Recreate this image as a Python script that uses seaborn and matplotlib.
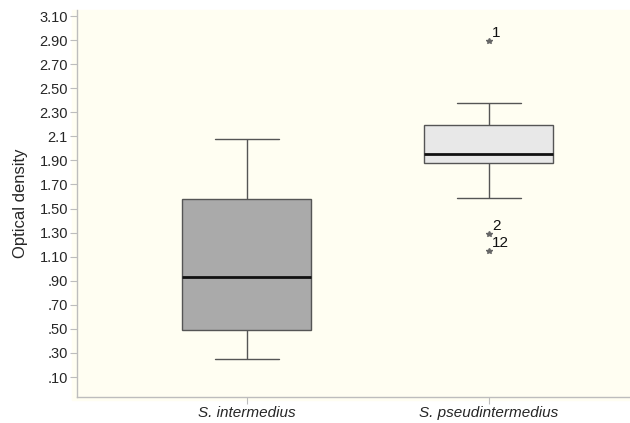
import pandas as pd
import matplotlib.pyplot as plt
import seaborn as sns
from matplotlib.patches import Rectangle

# optical density readings per species
intermedius = [0.25, 0.49, 0.93, 1.58, 2.08]
pseudintermedius = [1.15, 1.286, 1.585, 1.876, 1.90, 1.93, 1.956,
                    2.00, 2.10, 2.194, 2.30, 2.374, 2.895]
species = ["S. intermedius", "S. pseudintermedius"]
box_colors = ["#aaaaaa", "#e8e8e8"]

# case numbers shown next to outliers
outlier_values = [2.895, 1.286, 1.15]
outlier_labels = ["1", "2", "12"]

yticks = [3.10, 2.90, 2.70, 2.50, 2.30, 2.10, 1.90, 1.70, 1.50,
          1.30, 1.10, 0.90, 0.70, 0.50, 0.30, 0.10]
ytick_labels = ["3.10", "2.90", "2.70", "2.50", "2.30", "2.1", "1.90", "1.70",
                "1.50", "1.30", "1.10", ".90", ".70", ".50", ".30", ".10"]

df = pd.DataFrame({
    "species": [species[0]] * len(intermedius) + [species[1]] * len(pseudintermedius),
    "od": intermedius + pseudintermedius,
})

cream = "#fffef2"
spine_c = "#bdbdbd"

sns.set_style("white")
plt.rcParams["font.family"] = ["Liberation Sans", "DejaVu Sans"]

fig = plt.figure(figsize=(6.3, 4.23), dpi=100)
fig.patches.append(Rectangle((72 / 630, 23 / 423), 558 / 630, 390 / 423,
                             transform=fig.transFigure, color=cream, zorder=-5))
ax = fig.add_axes([77 / 630, 26 / 423, 553 / 630, 387 / 423])
ax.set_facecolor(cream)

sns.boxplot(data=df, x="species", y="od", hue="species", palette=box_colors,
            legend=False, width=0.533, whis=1.5, linecolor="#555555",
            linewidth=1.0,
            medianprops=dict(color="#111111", linewidth=2),
            flierprops=dict(marker="*", markersize=4, markerfacecolor="#666666",
                            markeredgecolor="#666666"),
            ax=ax)

for v, lab in zip(outlier_values, outlier_labels):
    ax.annotate(lab, xy=(1, v), xytext=(3, 1), textcoords="offset pixels",
                ha="left", va="bottom", fontsize=11, color="#111111")

ax.set_xlim(-0.702, 1.583)
ax.set_ylim(-0.066, 3.15)
ax.set_yticks(yticks)
ax.set_yticklabels(ytick_labels, fontsize=10.5)
ax.set_xticks([0, 1])
ax.set_xticklabels(species, fontsize=11, style="italic")
ax.tick_params(axis="both", which="both", length=5, width=0.8, color=spine_c,
               left=True, bottom=True, pad=1.5)
ax.set_xlabel("")
ax.set_ylabel("Optical density", fontsize=12, labelpad=8)

sns.despine(ax=ax)
for s in ["left", "bottom"]:
    ax.spines[s].set_color(spine_c)
    ax.spines[s].set_linewidth(1)

fig.savefig("out.png", dpi=100)
